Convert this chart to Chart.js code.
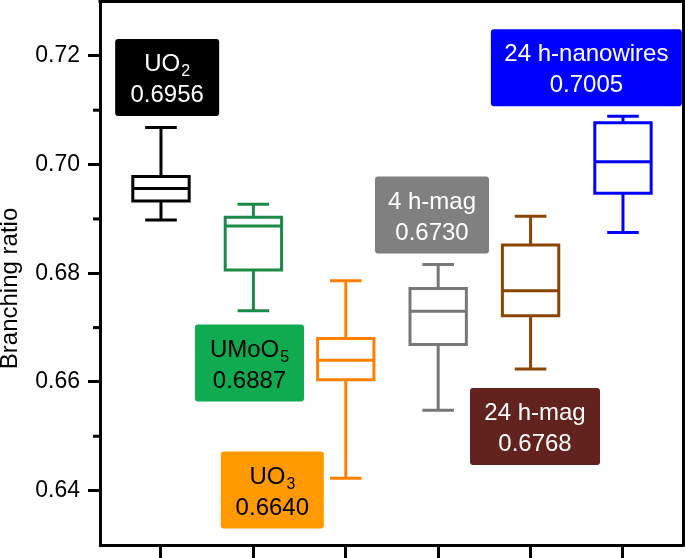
<!DOCTYPE html>
<html><head><meta charset="utf-8">
<script src="https://cdn.jsdelivr.net/npm/chart.js@4.4.1/dist/chart.umd.min.js"></script>
<style>html,body{margin:0;padding:0;background:#fff}</style>
</head><body>
<canvas id="c" width="685" height="558" style="display:block;width:685px;height:558px"></canvas>
<script>
// ---- data ----
const categories = ['UO_2', 'UMoO_5', 'UO_3', '4 h-mag', '24 h-mag', '24 h-nanowires'];
const whiskerLow  = [0.6898, 0.6731, 0.6423, 0.6548, 0.6624, 0.6875];
const quart1      = [0.6933, 0.6806, 0.6604, 0.6669, 0.6722, 0.6947];
const medianVals  = [0.6956, 0.6887, 0.6640, 0.6730, 0.6768, 0.7005];
const quart3      = [0.6978, 0.6903, 0.6680, 0.6772, 0.6852, 0.7077];
const whiskerHigh = [0.7068, 0.6927, 0.6786, 0.6816, 0.6905, 0.7089];
const yTickLabels = ['0.64', '0.66', '0.68', '0.70', '0.72'];
const yTitle = 'Branching ratio';

// ---- styles / label placement ----
const boxColors = ['#000000', '#1b8a47', '#ff8000', '#777777', '#8a4500', '#0000ff'];
const labelBg   = ['#000000', '#10ab50', '#ff9900', '#808080', '#62231f', '#0000ff'];
const labelFg   = ['#ffffff', '#000000', '#000000', '#ffffff', '#ffffff', '#ffffff'];
const labelX    = [0.067, 0.958, 1.205, 2.933, 4.048, 4.604];
const labelY    = [0.7160, 0.6635, 0.6401, 0.6907, 0.6518, 0.7178];
const labelW    = [104, 109, 103, 114, 130, 191];
const LABEL_H = 77;
const HALF_BOX = 0.305, HALF_CAP = 0.171;
const FONT = "'Liberation Sans', Arial, Helvetica, sans-serif";

function boxPath(i) {
  const c = i, g = {x: c, y: null};
  return [
    {x: c, y: quart3[i]}, {x: c + HALF_BOX, y: quart3[i]}, {x: c + HALF_BOX, y: quart1[i]},
    {x: c - HALF_BOX, y: quart1[i]}, {x: c - HALF_BOX, y: quart3[i]}, {x: c, y: quart3[i]}, g,
    {x: c - HALF_BOX, y: medianVals[i]}, {x: c + HALF_BOX, y: medianVals[i]}, g,
    {x: c, y: quart3[i]}, {x: c, y: whiskerHigh[i]}, g,
    {x: c - HALF_CAP, y: whiskerHigh[i]}, {x: c + HALF_CAP, y: whiskerHigh[i]}, g,
    {x: c, y: quart1[i]}, {x: c, y: whiskerLow[i]}, g,
    {x: c - HALF_CAP, y: whiskerLow[i]}, {x: c + HALF_CAP, y: whiskerLow[i]}
  ];
}

const datasets = categories.map((name, i) => ({
  label: name.replace('_', ''),
  data: boxPath(i),
  showLine: true,
  spanGaps: false,
  borderColor: boxColors[i],
  borderWidth: 3,
  pointRadius: 0,
  pointHoverRadius: 0,
  tension: 0,
  borderJoinStyle: 'miter',
  borderCapStyle: 'butt',
  fill: false
}));

function drawRich(ctx, text, cx, baseY) {
  const parts = text.split('_');
  const main = parts[0], sub = parts[1] || '';
  ctx.font = '24px ' + FONT;
  const wm = ctx.measureText(main).width;
  ctx.font = '16px ' + FONT;
  const ws = sub ? ctx.measureText(sub).width + 1 : 0;
  let x0 = cx - (wm + ws) / 2;
  ctx.textAlign = 'left';
  ctx.textBaseline = 'alphabetic';
  ctx.font = '24px ' + FONT;
  ctx.fillText(main, x0, baseY);
  if (sub) {
    ctx.font = '16px ' + FONT;
    ctx.fillText(sub, x0 + wm + 1, baseY + 5);
  }
}

const overlay = {
  id: 'overlay',
  afterDatasetsDraw(chart) {
    const {ctx, scales: {x, y}} = chart;
    ctx.save();
    categories.forEach((name, i) => {
      const cx = x.getPixelForValue(labelX[i]);
      const cy = y.getPixelForValue(labelY[i]);
      const w = labelW[i], h = LABEL_H;
      ctx.fillStyle = labelBg[i];
      ctx.beginPath();
      if (ctx.roundRect) ctx.roundRect(cx - w / 2, cy - h / 2, w, h, 3); else ctx.rect(cx - w / 2, cy - h / 2, w, h);
      ctx.fill();
      ctx.fillStyle = labelFg[i];
      drawRich(ctx, name, cx, cy - 15 + 8.6);
      ctx.font = '24px ' + FONT;
      ctx.textAlign = 'center';
      ctx.textBaseline = 'alphabetic';
      ctx.fillText(medianVals[i].toFixed(4), cx, cy + 16 + 8.6);
    });
    ctx.restore();
  },
  afterDraw(chart) {
    const {ctx, chartArea: a, scales: {y}} = chart;
    ctx.save();
    ctx.strokeStyle = '#000';
    ctx.lineWidth = 3;
    // minor ticks
    [0.65, 0.67, 0.69, 0.71].forEach(v => {
      const py = y.getPixelForValue(v);
      ctx.beginPath(); ctx.moveTo(a.left - 7, py); ctx.lineTo(a.left, py); ctx.stroke();
    });
    // frame top & right
    ctx.beginPath();
    ctx.moveTo(a.left - 1.5, a.top); ctx.lineTo(a.right, a.top); ctx.lineTo(a.right, a.bottom + 1.5);
    ctx.stroke();
    // axis title
    ctx.fillStyle = '#000';
    ctx.font = '24px ' + FONT;
    ctx.textAlign = 'center';
    ctx.textBaseline = 'middle';
    ctx.translate(10, y.getPixelForValue(0.6772));
    ctx.rotate(-Math.PI / 2);
    ctx.fillText(yTitle, 0, 0);
    ctx.restore();
  }
};

new Chart(document.getElementById('c'), {
  type: 'scatter',
  data: {datasets},
  plugins: [overlay],
  options: {
    responsive: false,
    animation: false,
    events: [],
    layout: {autoPadding: false, padding: {left: 0, top: 1.5, right: 1.5, bottom: 0}},
    plugins: {legend: {display: false}, tooltip: {enabled: false}},
    scales: {
      x: {
        type: 'linear', min: -0.66, max: 5.655,
        afterBuildTicks: s => { s.ticks = categories.map((_, i) => ({value: i})); },
        afterFit: s => { s.height = 13; s.paddingLeft = 0; s.paddingRight = 0; },
        ticks: {display: false},
        grid: {drawOnChartArea: false, drawTicks: true, tickLength: 13, tickWidth: 3, tickColor: '#000'},
        border: {display: true, color: '#000', width: 3}
      },
      y: {
        type: 'linear', min: 0.63, max: 0.73,
        afterBuildTicks: s => { s.ticks = yTickLabels.map(t => ({value: parseFloat(t)})); },
        afterFit: s => { s.width = 100; s.paddingTop = 0; s.paddingBottom = 0; },
        ticks: {
          autoSkip: false, padding: 8, color: '#000',
          font: {family: FONT, size: 23},
          callback: (v, idx) => yTickLabels[idx]
        },
        grid: {drawOnChartArea: false, drawTicks: true, tickLength: 12, tickWidth: 3, tickColor: '#000'},
        border: {display: true, color: '#000', width: 3}
      }
    }
  }
});
</script>
</body></html>
